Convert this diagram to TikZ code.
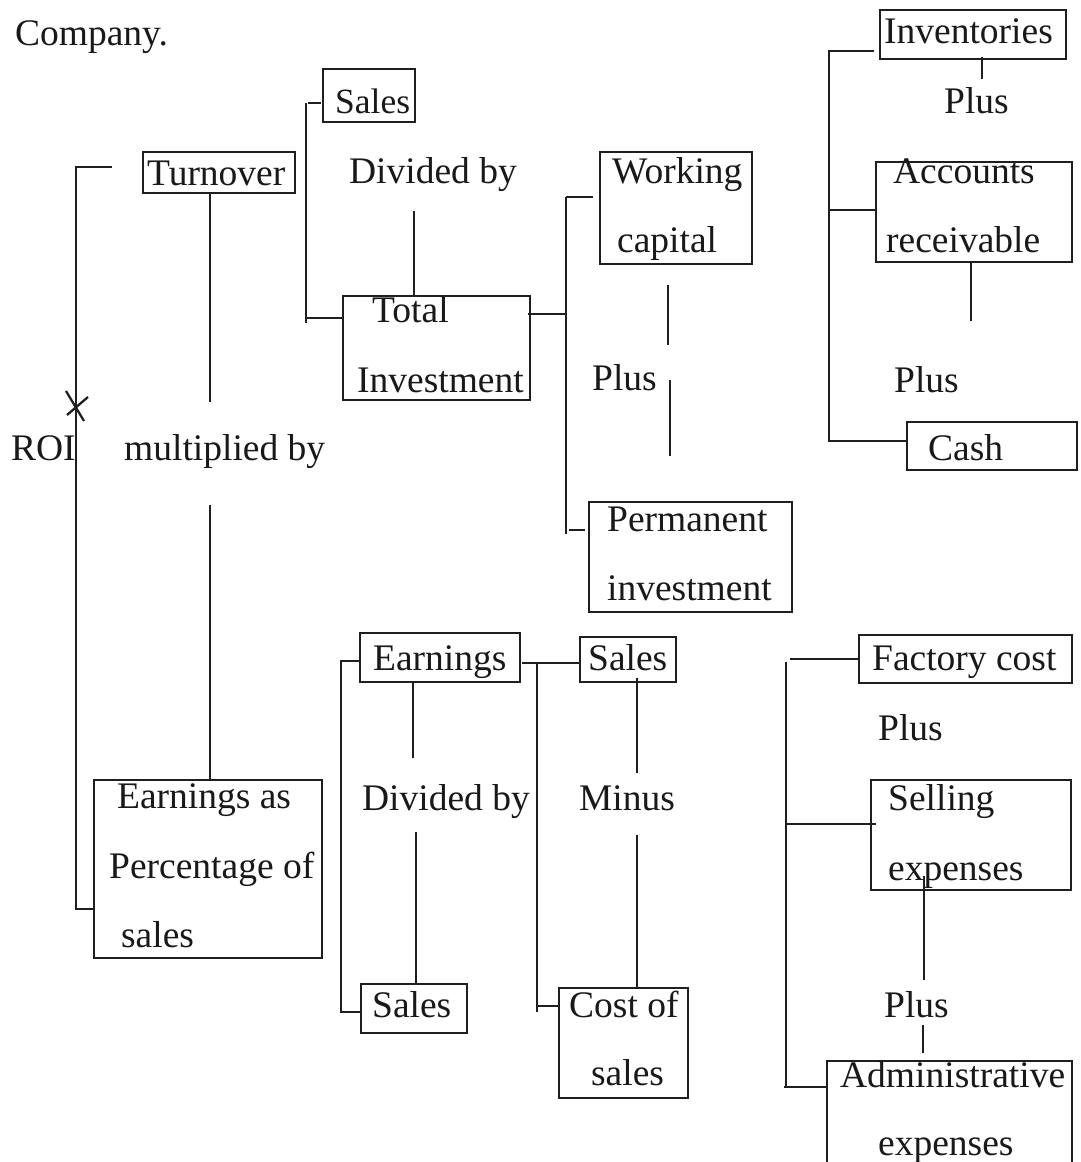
\documentclass[tikz,border=0pt]{standalone}
\usepackage{fontspec}
\setmainfont{Liberation Serif}
\usetikzlibrary{fit}
\begin{document}
\begin{tikzpicture}[x=1pt,y=-1pt,
  line width=2.3pt, line cap=butt,
  box/.style={draw, line width=2.3pt, inner sep=0pt, fit={#1}},
  txt/.style={anchor=base west, inner sep=0pt, font=\fontsize{37.5}{45}\selectfont, text=black!90}]
\useasboundingbox (0,0) rectangle (1081,1162);
\fill[white] (0,0) rectangle (1081,1162);
\tikzset{every path/.style={draw=black!88}}
% ---------- boxes ----------
\node[box={(323,69) (415,122)}] (saleT) {};
\node[box={(143,152) (295,193)}] (turn) {};
\node[box={(343,296) (530,400)}] (tinv) {};
\node[box={(600,152) (752,264)}] (work) {};
\node[box={(589,502) (792,612)}] (perm) {};
\node[box={(880,10) (1066,59)}] (inv) {};
\node[box={(876,162) (1072,262)}] (acc) {};
\node[box={(907,422) (1077,470)}] (cash) {};
\node[box={(94,780) (322,958)}] (epct) {};
\node[box={(360,633) (520,682)}] (earn) {};
\node[box={(361,984) (467,1033)}] (saleB) {};
\node[box={(580,637) (676,682)}] (saleM) {};
\node[box={(559,988) (688,1098)}] (cost) {};
\node[box={(859,635) (1072,683)}] (fact) {};
\node[box={(871,780) (1071,890)}] (sell) {};
\coordinate (admBL) at (827,1170);
\coordinate (admTL) at (827,1061);
\coordinate (admTR) at (1072,1061);
\coordinate (admBR) at (1072,1170);
\draw (admBL) -- (admTL) -- (admTR) -- (admBR);
% ---------- texts ----------
\node[txt] (tcomp) at (14,45) {Company.};
\node[txt, font=\fontsize{35.5}{43}\selectfont] (tsaleT) at (334,113) {Sales};
\node[txt] (tturn) at (146,185) {Turnover};
\node[txt] (tdiv1) at (348,183) {Divided by};
\node[txt] (ttot) at (371,322) {Total};
\node[txt] (tinvs) at (356,392) {Investment};
\node[txt] (twork) at (611,183) {Working};
\node[txt] (tcap) at (616,252) {capital};
\node[txt] (tplus1) at (591,390) {Plus};
\node[txt] (troi) at (10,460) {ROI};
\node[txt] (tmul) at (123,460) {multiplied by};
\node[txt] (tperm) at (606,531) {Permanent};
\node[txt] (tpinv) at (606,600) {investment};
\node[txt] (tinv) at (883,43) {Inventories};
\node[txt] (tplus2) at (943,113) {Plus};
\node[txt] (tacc) at (892,183) {Accounts};
\node[txt] (trec) at (885,252) {receivable};
\node[txt] (tplus3) at (893,392) {Plus};
\node[txt] (tcash) at (927,460) {Cash};
\node[txt] (tearn) at (372,670) {Earnings};
\node[txt] (teas) at (116,808) {Earnings as};
\node[txt] (tpct) at (108,878) {Percentage of};
\node[txt] (tsls) at (120,947) {sales};
\node[txt] (tdiv2) at (361,810) {Divided by};
\node[txt] (tsaleB) at (371,1017) {Sales};
\node[txt] (tsaleM) at (587,670) {Sales};
\node[txt] (tminus) at (578,810) {Minus};
\node[txt] (tcost) at (568,1017) {Cost of};
\node[txt] (tcsls) at (590,1085) {sales};
\node[txt] (tfact) at (871,670) {Factory cost};
\node[txt] (tplus4) at (877,740) {Plus};
\node[txt] (tsell) at (887,810) {Selling};
\node[txt] (texp1) at (887,880) {expenses};
\node[txt] (tplus5) at (883,1017) {Plus};
\node[txt] (tadm) at (839,1087) {Administrative};
\node[txt] (texp2) at (877,1155) {expenses};
% ---------- connectors ----------
% ROI bracket
\draw (112,167) -- (76,167) -- (76,909) -- (epct.west |- 0,909);
\draw (66,391) -- (84,421);
\draw (88,397) -- (67,415);
% turnover / earnings % line
\draw (210,193) -- (210,402);
\draw (210,505) -- (210,780);
% sales / total investment bracket
\draw (308,103) -- (321,103);
\draw (306,103) -- (306,323);
\draw (306,318) -- (343,318);
\draw (414,211) -- (414,296);
% total investment -> working capital / permanent
\draw (528,314) -- (566,314);
\draw (566,197) -- (566,534);
\draw (566,197) -- (593,197);
\draw (569,530) -- (585,530);
\draw (668,285) -- (668,345);
\draw (670,380) -- (670,456);
% working capital components
\draw (874,51) -- (829,51) -- (829,441) -- (907,441);
\draw (829,210) -- (876,210);
\draw (982,57) -- (982,79);
\draw (971,262) -- (971,321);
% earnings / sales
\draw (360,661) -- (341,661) -- (341,1012) -- (361,1012);
\draw (413,682) -- (413,758);
\draw (416,832) -- (416,984);
% sales minus cost of sales
\draw (522,663) -- (580,663);
\draw (537,663) -- (537,1012);
\draw (537,1006) -- (559,1006);
\draw (637,678) -- (637,773);
\draw (637,835) -- (637,988);
% cost components
\draw (790,659) -- (859,659);
\draw (786,662) -- (786,1087);
\draw (786,824) -- (876,824);
\draw (784,1087) -- (827,1087);
\draw (924,876) -- (924,980);
\draw (923,1025) -- (923,1053);
\end{tikzpicture}
\end{document}
